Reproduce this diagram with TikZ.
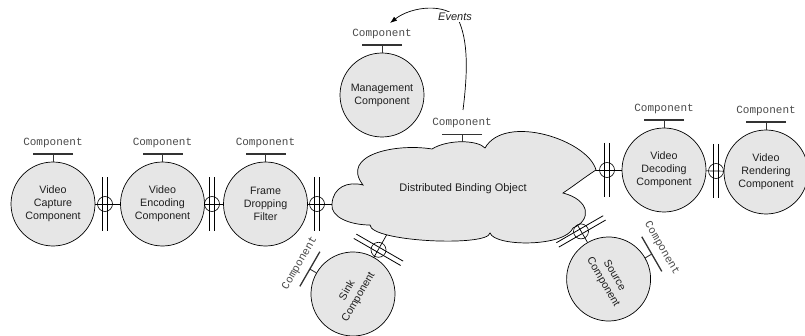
\documentclass[tikz,border=0pt]{standalone}
\usepackage{fontspec}
\setmainfont{Liberation Sans}
\setsansfont{Liberation Sans}
\setmonofont{Liberation Mono}
\usetikzlibrary{arrows.meta}
\definecolor{compfill}{HTML}{E6E6E6}
\definecolor{labelgrey}{HTML}{4A4A4A}

% ring and double bar across a link; #3 is the direction of the link
\newcommand{\binding}[3]{%
  \node[bindring] (#1) at (#2) {};
  \draw[bindbar] ([shift={(#3:2.5pt)}]#1.center) ++(#3+90:27pt) -- ++(#3-90:54pt);
  \draw[bindbar] ([shift={(#3+180:2.5pt)}]#1.center) ++(#3+90:27pt) -- ++(#3-90:54pt);
}
% interface marker: stem, bar and name; #2 is the turn of the owner
\newcommand{\iface}[3]{%
  \draw[ifstem] (#1) -- ++(90+#2:7.5pt) coordinate (#3t);
  \draw[ifbar] ([shift={(#2:20pt)}]#3t) -- ([shift={(#2+180:20pt)}]#3t);
  \node[ifname, rotate=#2] (#3) at ([shift={(90+#2:11.5pt)}]#3t) {Component};
}

\begin{document}
\begin{tikzpicture}[
  x=1pt, y=1pt,
  every node/.style={font=\fontsize{10.7}{13}\selectfont, text=black!88},
  comp/.style={circle, draw=black, line width=0.7pt, fill=compfill,
               minimum size=84pt, inner sep=0pt, align=center},
  link/.style={black, line width=0.7pt},
  cloudline/.style={draw=black, line width=0.7pt, fill=compfill},
  bindring/.style={circle, draw=black, line width=0.6pt,
                   minimum size=15pt, inner sep=0pt},
  bindbar/.style={black, line width=0.8pt},
  ifstem/.style={black!80, line width=0.9pt},
  ifbar/.style={black!80, line width=1.3pt},
  ifname/.style={font=\fontsize{11}{11}\ttfamily, text=labelgrey, inner sep=0pt},
  evlabel/.style={font=\fontsize{11}{11}\itshape, fill=white, inner sep=1pt},
  evarrow/.style={black, line width=0.7pt, -{Latex[length=7pt, width=5pt]}}
]
  \useasboundingbox (0,0) rectangle (805,335);

  % ---- components ---------------------------------------------------------
  \node[comp] (cap)   at (53,131)    {Video\\Capture\\Component};
  \node[comp] (enc)   at (162.5,131) {Video\\Encoding\\Component};
  \node[comp] (fdrop) at (265.5,131) {Frame\\Dropping\\Filter};
  \node[comp] (mgmt)  at (382,240)   {Management\\Component};
  \node[comp] (dec)   at (664,165)   {Video\\Decoding\\Component};
  \node[comp] (rend)  at (766,163)   {Video\\Rendering\\Component};
  \node[comp, rotate=60]  (sink) at (353,41)   {Sink\\Component};
  \node[comp, rotate=300] (src)  at (608.6,56) {Source\\Component};

  % ---- points on the binding object ---------------------------------------
  \coordinate (dboL) at (336,131);
  \coordinate (dboR) at (596,165);
  \coordinate (dboS) at (390,106);
  \coordinate (dboQ) at (574,116);
  \coordinate (dboT) at (462,193);

  % ---- links (their inner ends are hidden by the cloud) --------------------
  \draw[link] (cap) -- (enc);
  \draw[link] (enc) -- (fdrop);
  \draw[link] (fdrop) -- (dboL);
  \draw[link] (dboR) -- (dec);
  \draw[link] (dec) -- (rend);
  \draw[link] (sink) -- (dboS);
  \draw[link] (src) -- (dboQ);

  % ---- the distributed binding object ------------------------------------
  \draw[cloudline] (332,131)
    .. controls (330,118) and (350,110) .. (370,110)
    .. controls (371,93) and (488,88) .. (490,102)
    .. controls (495,88) and (565,88) .. (573,107)
    .. controls (592,115) and (590,135) .. (563,142)
    .. controls (575,150) and (585,158) .. (596,165)
    .. controls (588,195) and (505,222) .. (485,187)
    .. controls (478,195) and (448,196) .. (432,186)
    .. controls (395,192) and (340,180) .. (363,150)
    .. controls (348,154) and (333,148) .. cycle;
  \node[font=\fontsize{11}{13}\selectfont] (dbo) at (463,146)
    {Distributed Binding Object};

  % ---- interfaces -----------------------------------------------------------
  \iface{cap.north}{0}{capI}
  \iface{enc.north}{0}{encI}
  \iface{fdrop.north}{0}{fdI}
  \iface{mgmt.north}{0}{mgmtI}
  \iface{dec.north}{0}{decI}
  \iface{rend.north}{0}{rendI}
  \iface{sink.north}{60}{sinkI}
  \iface{src.north}{300}{srcI}
  \iface{dboT}{0}{dboI}

  % ---- bindings -------------------------------------------------------------
  \binding{capenc}{105,131}{0}
  \binding{encfd}{212,131}{0}
  \binding{fddbo}{317,131}{0}
  \binding{dbodec}{607,165}{0}
  \binding{decrend}{716,164}{0}
  \binding{sinkdbo}{378.5,85.2}{60}
  \binding{srcdbo}{581,103.6}{120}

  % ---- events -------------------------------------------------------------
  \coordinate (evfrom) at (463,225);
  \coordinate (evto)   at (390,312);
  \draw[evarrow] (evfrom) .. controls (468,265) and (468,295) .. (458,316)
    .. controls (446,332) and (412,329) .. (evto);
  \node[evlabel] (events) at (455,318) {Events};
\end{tikzpicture}
\end{document}
